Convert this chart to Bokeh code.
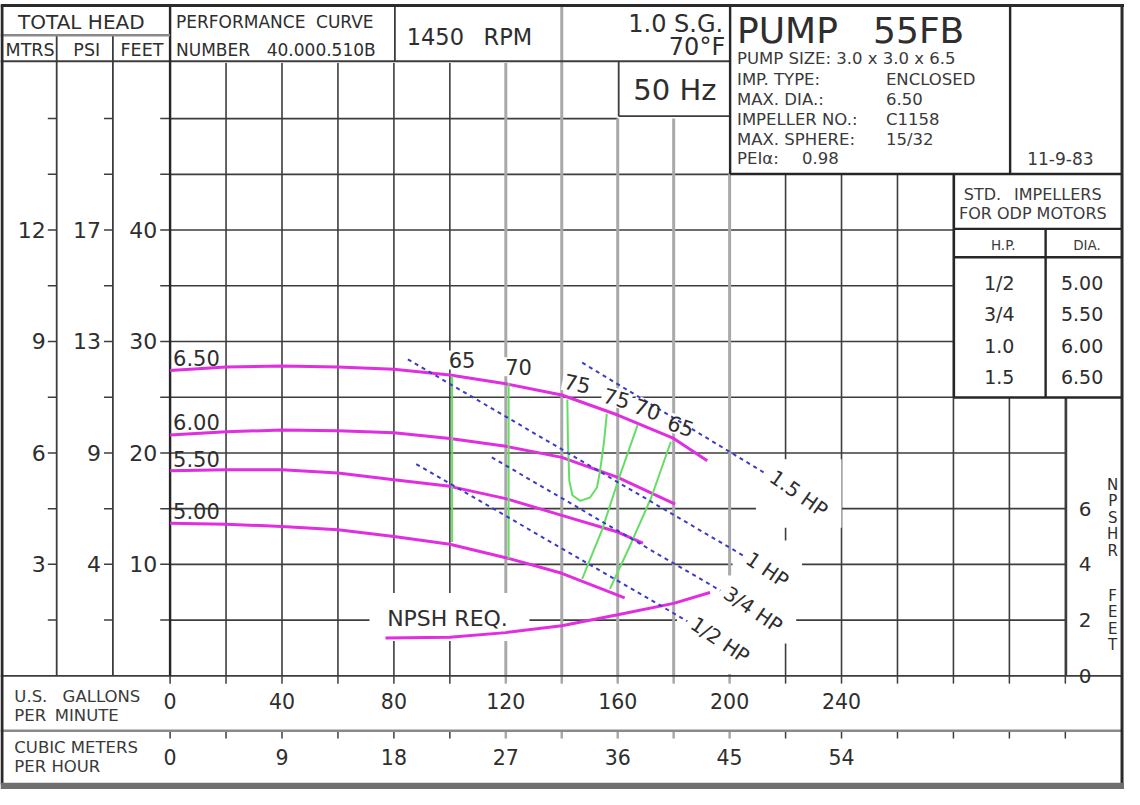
import math
from bokeh.plotting import figure
from bokeh.models import Range1d
from bokeh.embed import file_html
from bokeh.resources import INLINE
from bokeh.core.properties import value

# ---------------- chart data ----------------
gpm_ticks = [0, 40, 80, 120, 160, 200, 240]
gpm_labels = ["0", "40", "80", "120", "160", "200", "240"]
cmh_labels = ["0", "9", "18", "27", "36", "45", "54"]
feet_ticks = [10, 20, 30, 40]
feet_labels = ["10", "20", "30", "40"]
mtrs_labels = ["3", "6", "9", "12"]
psi_labels = ["4", "9", "13", "17"]
npsh_ticks = [0, 2, 4, 6]
npsh_labels = ["0", "2", "4", "6"]

imp_labels = ["6.50", "6.00", "5.50", "5.00"]
flow_650 = [0, 20, 40, 60, 80, 100, 120, 140, 160, 180, 192]
head_650 = [27.4, 27.7, 27.8, 27.7, 27.5, 27.0, 26.2, 25.2, 23.4, 21.3, 19.3]
flow_600 = [0, 20, 40, 60, 80, 100, 120, 140, 160, 180.5]
head_600 = [21.6, 21.9, 22.05, 22.0, 21.8, 21.3, 20.6, 19.6, 17.8, 15.4]
flow_550 = [0, 20, 40, 60, 80, 100, 120, 140, 160, 169]
head_550 = [18.4, 18.5, 18.5, 18.2, 17.6, 17.0, 15.9, 14.4, 12.9, 11.9]
flow_500 = [0, 20, 40, 60, 80, 100, 120, 140, 162.5]
head_500 = [13.7, 13.6, 13.4, 13.1, 12.5, 11.8, 10.6, 9.2, 7.0]

npsh_flow = [77, 100, 120, 140, 160, 180, 193]
npsh_req = [1.36, 1.38, 1.55, 1.80, 2.19, 2.60, 2.99]

eff_labels = ["65", "70", "75", "75", "70", "65"]
eff65a_flow = [100.8, 100.8]
eff65a_head = [26.9, 12.0]
eff70a_flow = [121.0, 121.0]
eff70a_head = [26.3, 10.5]
eff75_flow = [142.0, 142.2, 142.7, 143.8, 146.6, 150.1, 152.6, 153.7, 155.1, 156.1]
eff75_head = [24.8, 21.0, 17.5, 16.2, 15.7, 16.0, 16.9, 18.4, 21.0, 23.5]
eff70b_flow = [167.1, 160.4, 154.4, 147.3]
eff70b_head = [22.5, 17.7, 13.1, 8.7]
eff65b_flow = [179.0, 172.0, 163.9, 157.2]
eff65b_head = [21.0, 16.0, 11.4, 7.8]

hp_labels = ["1.5 HP", "1 HP", "3/4 HP", "1/2 HP"]
hp15_flow = [147.3, 213.2]
hp15_head = [28.1, 18.1]
hp1_flow = [85.0, 204.8]
hp1_head = [28.4, 10.8]
hp34_flow = [115.0, 196.7]
hp34_head = [19.6, 7.65]
hp12_flow = [88.0, 184.9]
hp12_head = [19.0, 4.9]

std_hp = ["1/2", "3/4", "1.0", "1.5"]
std_dia = ["5.00", "5.50", "6.00", "6.50"]

# ---------------- layout helpers ----------------
W, H = 1124, 789
RW, RH = 1140, 805
FONT = "DejaVu Sans"


def gx(rx):
    return (rx - 172.0) / 2.8375


def gy(ry):
    return (689.0 - ry) / 11.37


FX = W / (gx(RW) - gx(0))   # figure px per GPM
FY = H / (gy(0) - gy(RH))   # figure px per ft
NPSH_K = 2.5                # 1 ft NPSH = 2.5 ft head on the chart

p = figure(width=W, height=H, x_range=Range1d(gx(0), gx(RW)),
           y_range=Range1d(gy(RH), gy(0)), output_backend="svg",
           toolbar_location=None, x_axis_type=None, y_axis_type=None,
           min_border=0)
p.outline_line_color = None
p.background_fill_color = "white"
p.border_fill_color = "white"
p.extra_y_ranges = {"npsh": Range1d(gy(RH) / NPSH_K, gy(0) / NPSH_K)}

DARK = "#3d3d3d"
LIGHT = "#a9a9a9"
INK = "#2e2e2e"
INK2 = "#3a3a3a"


def seg_data(lst, color, width):
    if not lst:
        return
    p.segment(x0=[a[0] for a in lst], y0=[a[1] for a in lst],
              x1=[a[2] for a in lst], y1=[a[3] for a in lst],
              line_color=color, line_width=width)


def seg_ref(lst, color, width):
    seg_data([(gx(a), gy(b), gx(c), gy(d)) for a, b, c, d in lst], color, width)


def txt(xs, ys, texts, size, align="left", baseline="middle", color=INK, angle=0.0):
    p.text(x=list(xs), y=list(ys), text=list(texts), text_font=value(FONT),
           text_font_size=value(f"{size}px"), text_align=align,
           text_baseline=baseline, text_color=color, angle=angle)


CW = {"1": .636, "2": .636, "3": .636, "4": .636, "5": .636, "6": .636, "7": .636,
      "8": .636, "9": .636, "0": .636, ".": .318, " ": .318, "/": .337, "H": .752,
      "P": .603, "N": .748, "S": .635, "R": .695, "E": .632, "Q": .787}


def tw(s, size):
    return sum(CW.get(c, .68) for c in s) * size


# ---------------- grid ----------------
dark_v, light_v, dark_h = [], [], []
for g in range(20, 340, 20):
    if g <= 120:
        top = 55
    elif g == 140:
        top = gy(5)
    elif g in (160, 180):
        top = 50
    elif g <= 280:
        top = 45
    else:
        top = 25
    (light_v if 120 <= g <= 200 else dark_v).append((g, top, g, 0))
for h in range(5, 55, 5):
    if h == 50:
        right = 160
    elif h == 45:
        right = 200
    elif h >= 25:
        right = 280
    else:
        right = 320
    dark_h.append((0, h, right, h))
seg_data(dark_h, DARK, 1.6)
seg_data(dark_v, DARK, 1.6)
seg_data(light_v, LIGHT, 3)

# ticks
left_ticks = []
for h in range(5, 55, 5):
    for a, b in ((48, 57), (105, 114), (162, 172)):
        left_ticks.append((gx(a), h, gx(b), h))
seg_data(left_ticks, DARK, 1.5)
bt_dark, bt_light = [], []
for g in range(0, 340, 20):
    for r0 in (689, 745):
        (bt_light if 120 <= g <= 200 else bt_dark).append((g, gy(r0), g, gy(r0 + 8)))
seg_data(bt_dark, DARK, 1.5)
seg_data(bt_light, LIGHT, 2.5)

# frame / header boxes (reference-pixel layout)
seg_ref([(0, 62, 740, 62), (57, 35, 57, 689), (114, 35, 114, 689),
         (400, 5, 400, 62), (627, 62, 627, 118), (627, 118, 740, 118),
         (1081, 405, 1081, 689), (0, 689, 1137, 689)], DARK, 1.8)
seg_ref([(172, 5, 172, 689), (740, 5, 740, 177), (740, 177, 1137, 177),
         (1024, 5, 1024, 177), (967, 177, 967, 405), (967, 233, 1137, 233),
         (967, 262, 1137, 262), (1060, 233, 1060, 405), (967, 405, 1137, 405)],
        "#262626", 2.4)
seg_ref([(0, 35.5, 172, 35.5), (0, 745, 1137, 745)], "#8a8a8a", 2.5)
seg_ref([(0, 5, 1140, 5), (1.5, 5, 1.5, 800), (1137.5, 5, 1137.5, 800)], "#2a2a2a", 3)
p.quad(left=[gx(0)], right=[gx(RW)], top=[gy(798)], bottom=[gy(RH)],
       fill_color="#6e6e6e", line_color=None)

# ---------------- white masks behind labels ----------------
NPF = 22
npsh_lab_x = npsh_flow[0] + 62 / FX
npsh_lab_y = npsh_req[0] * NPSH_K + 19 / FY
p.rect(x=[npsh_lab_x + 2 / FX], y=[npsh_lab_y + 2 / FY], width=[160 / FX], height=[48 / FY],
       fill_color="white", line_color=None)

hp_series = [(hp15_flow, hp15_head), (hp1_flow, hp1_head),
             (hp34_flow, hp34_head), (hp12_flow, hp12_head)]
hp_pos = []
HPF = 20
for (fl, hd), lab in zip(hp_series, hp_labels):
    dxp = (fl[1] - fl[0]) * FX
    dyp = (hd[1] - hd[0]) * FY
    th = math.atan2(dyp, dxp)
    L = tw(lab, HPF)
    d = 5 + L / 2
    cx = fl[1] + d * math.cos(th) / FX
    cy = hd[1] + d * math.sin(th) / FY
    hp_pos.append((cx, cy, th - 0.07))
    bw = L * abs(math.cos(th)) + 15 * abs(math.sin(th)) + 22
    bh = L * abs(math.sin(th)) + 15 * abs(math.cos(th)) + 22
    p.rect(x=[cx], y=[cy], width=[bw / FX], height=[bh / FY],
           fill_color="white", line_color=None)

eff_curves = [(eff65a_flow, eff65a_head), (eff70a_flow, eff70a_head),
              (eff75_flow, eff75_head), (eff70b_flow, eff70b_head),
              (eff65b_flow, eff65b_head)]
eff_anchor = [(eff65a_flow[0], eff65a_head[0]), (eff70a_flow[0], eff70a_head[0]),
              (eff75_flow[0], eff75_head[0]), (eff75_flow[-1], eff75_head[-1]),
              (eff70b_flow[0], eff70b_head[0]), (eff65b_flow[0], eff65b_head[0])]
eff_angle = [0, 0, -0.2, -0.26, -0.33, -0.33]
eff_x = [a[0] + 10 / FX for a in eff_anchor]
eff_y = [a[1] + 16 / FY for a in eff_anchor]
p.rect(x=eff_x, y=eff_y, width=[30 / FX] * 6, height=[19 / FY] * 6,
       angle=eff_angle, fill_color="white", line_color=None)

# ---------------- curves ----------------
MAG = "#e02ee0"
for fl, hd in ((flow_650, head_650), (flow_600, head_600),
               (flow_550, head_550), (flow_500, head_500)):
    p.line(fl, hd, line_color=MAG, line_width=3)
p.line(npsh_flow, npsh_req, y_range_name="npsh", line_color=MAG, line_width=3)

for fl, hd in eff_curves:
    p.line(fl, hd, line_color="#66dd66", line_width=2)

for fl, hd in hp_series:
    p.line(fl, hd, line_color="#3b3bc4", line_width=2, line_dash="4 4")

# ---------------- texts ----------------
# impeller diameters
txt([flow_650[0] + 3 / FX, flow_600[0] + 3 / FX, flow_550[0] + 3 / FX, flow_500[0] + 3 / FX],
    [head_650[0] + 4 / FY, head_600[0] + 5 / FY, head_550[0] + 4 / FY, head_500[0] + 4 / FY],
    imp_labels, 21, baseline="bottom")
# efficiency labels
p.text(x=eff_x, y=eff_y, text=eff_labels, angle=eff_angle, text_font=value(FONT),
       text_font_size=value("21px"), text_align="center", text_baseline="middle",
       text_color=INK)
# hp labels
for (cx, cy, th), lab in zip(hp_pos, hp_labels):
    txt([cx], [cy], [lab], HPF, align="center", angle=th)
# NPSH label
txt([npsh_lab_x], [npsh_lab_y], ["NPSH REQ."], NPF, align="center")

# left axes
txt([gx(46)] * 4, feet_ticks, mtrs_labels, 22, align="right")
txt([gx(102)] * 4, feet_ticks, psi_labels, 22, align="right")
txt([gx(159)] * 4, feet_ticks, feet_labels, 22, align="right")
# bottom axes
txt(gpm_ticks, [gy(715)] * 7, gpm_labels, 20.5, align="center")
txt(gpm_ticks, [gy(772)] * 7, cmh_labels, 20.5, align="center")
txt([gx(14), gx(63), gx(14), gx(55), gx(14), gx(14)],
    [gy(710), gy(710), gy(730), gy(730), gy(762), gy(782)],
    ["U.S.", "GALLONS", "PER", "MINUTE", "CUBIC METERS", "PER HOUR"], 16.5, color=INK2)
# right NPSH axis
p.text(x=[gx(1100)] * 4, y=npsh_ticks, text=npsh_labels, y_range_name="npsh",
       text_font=value(FONT), text_font_size=value("20px"), text_align="center",
       text_baseline="middle", text_color=INK)
txt([gx(1128)] * 5, [gy(494 + 16.8 * i) for i in range(5)], list("NPSHR"), 15, align="center")
txt([gx(1128)] * 4, [gy(607.5 + 16.7 * i) for i in range(4)], list("FEET"), 15, align="center")

# header
txt([gx(82)], [gy(22)], ["TOTAL HEAD"], 20, align="center")
txt([gx(30), gx(87.5), gx(143.5)], [gy(50)] * 3, ["MTRS", "PSI", "FEET"], 17.5, align="center")
txt([gx(178), gx(320)], [gy(22)] * 2, ["PERFORMANCE", "CURVE"], 17)
txt([gx(178), gx(270)], [gy(50)] * 2, ["NUMBER", "40.000.510B"], 17)
txt([gx(412), gx(490)], [gy(37)] * 2, ["1450", "RPM"], 22.5)
txt([gx(733)], [gy(24)], ["1.0 S.G."], 24, align="right")
txt([gx(735)], [gy(47)], ["70°F"], 24, align="right")
txt([gx(684)], [gy(91)], ["50 Hz"], 29, align="center")
txt([gx(747), gx(885)], [gy(31)] * 2, ["PUMP", "55FB"], 36)
txt([gx(747)] * 6, [gy(59), gy(81), gy(101), gy(121.5), gy(142), gy(161)],
    ["PUMP SIZE: 3.0 x 3.0 x 6.5", "IMP. TYPE:", "MAX. DIA.:", "IMPELLER NO.:",
     "MAX. SPHERE:", "PEIα:"], 16.5, color=INK2)
txt([gx(898)] * 4 + [gx(813)], [gy(81), gy(101), gy(121.5), gy(142), gy(161)],
    ["ENCLOSED", "6.50", "C1158", "15/32", "0.98"], 16.5, color=INK2)
txt([gx(1075)], [gy(161)], ["11-9-83"], 17, align="center", color=INK2)
# std impellers table
txt([gx(977), gx(1028)], [gy(198)] * 2, ["STD.", "IMPELLERS"], 16, color=INK2)
txt([gx(1047)], [gy(217)], ["FOR ODP MOTORS"], 16, align="center", color=INK2)
txt([gx(1017), gx(1102)], [gy(249)] * 2, ["H.P.", "DIA."], 13.5, align="center", color=INK2)
ys_tab = [gy(288 + 32 * i) for i in range(4)]
txt([gx(1013)] * 4, ys_tab, std_hp, 19, align="center")
txt([gx(1097)] * 4, ys_tab, std_dia, 19, align="center")

open("out.html", "w").write(file_html(p, INLINE))
